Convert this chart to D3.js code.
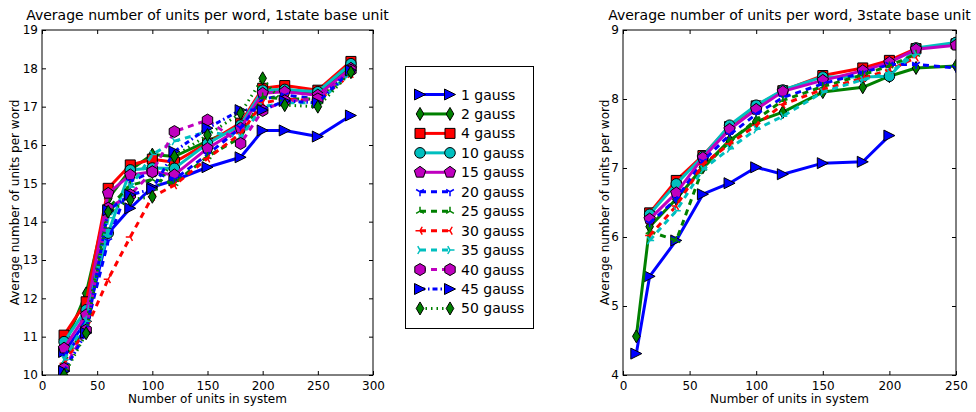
<!DOCTYPE html>
<html>
<head>
<meta charset="utf-8">
<script src="https://cdn.jsdelivr.net/npm/d3@7"></script>
<style>
    body { margin: 0; background: #fff; }
    text { font-family: "DejaVu Sans", sans-serif; fill: #000; }
</style>
</head>
<body>
<div id="chart-area"></div>
<script>
// Series names, one per gauss setting
var labels = ["1 gauss", "2 gauss", "4 gauss", "10 gauss", "15 gauss", "20 gauss",
              "25 gauss", "30 gauss", "35 gauss", "40 gauss", "45 gauss", "50 gauss"];

// Left panel (1state base unit)
var xLeft = [20, 40, 60, 80, 100, 120, 150, 180, 200, 220, 250, 280];
var left1  = [10.6, 11.4, 13.7, 14.35, 14.9, 15.08, 15.42, 15.68, 16.38, 16.38, 16.22, 16.77];
var left2  = [10.75, 12.13, 14.6, 15.35, 15.75, 15.7, 16.1, 16.5, 17.4, 17.45, 17.35, 18.05];
var left4  = [11.04, 11.91, 14.87, 15.48, 15.63, 15.55, 16.05, 16.57, 17.48, 17.55, 17.43, 18.18];
var left10 = [10.87, 11.7, 13.7, 15.35, 15.4, 15.39, 16.04, 16.52, 17.43, 17.45, 17.39, 18.12];
var left15 = [10.7, 11.57, 14.74, 15.22, 15.3, 15.22, 15.91, 16.44, 17.35, 17.39, 17.3, 18.0];
var left20 = [10.5, 11.2, 13.5, 15.05, 15.3, 15.1, 15.75, 16.45, 17.2, 17.3, 17.2, 17.95];
var left25 = [10.35, 11.3, 14.35, 14.95, 15.1, 15.0, 15.7, 16.2, 17.25, 17.2, 17.2, 17.9];
var left30 = [10.3, 11.2, 12.5, 13.6, 14.65, 14.95, 15.65, 16.3, 17.1, 17.2, 17.15, 17.85];
var left35 = [10.4, 11.4, 14.1, 14.9, 15.75, 16.1, 16.35, 16.2, 17.0, 17.1, 17.1, 17.9];
var left40 = [10.17, 11.17, 14.35, 14.7, 15.3, 16.35, 16.65, 16.04, 16.9, 17.15, 17.2, 17.95];
var left45 = [10.1, 11.1, 14.3, 14.7, 14.85, 15.83, 16.44, 16.91, 16.91, 17.15, 17.1, 17.95];
var left50 = [10.0, 11.09, 14.26, 14.57, 14.65, 15.7, 16.26, 16.83, 17.74, 17.04, 17.0, 17.9];

// Right panel (3state base unit)
var xRight1 = [10, 20, 40, 60, 80, 100, 120, 150, 180, 200];
var xRight2 = [10, 20, 40, 60, 80, 100, 120, 150, 180, 200, 220, 250];
var xRight  = [20, 40, 60, 80, 100, 120, 150, 180, 200, 220, 250];
var xRightShort = [20, 40, 60, 80, 100, 120, 150, 180, 200, 220];
var right1  = [4.31, 5.43, 5.95, 6.62, 6.78, 7.01, 6.91, 7.07, 7.09, 7.47];
var right2  = [4.56, 6.15, 6.55, 7.01, 7.4, 7.67, 7.81, 8.1, 8.17, 8.33, 8.45, 8.48];
var right4  = [6.35, 6.82, 7.18, 7.6, 7.9, 8.12, 8.34, 8.45, 8.56, 8.73, 8.8];
var right10 = [6.33, 6.77, 7.17, 7.62, 7.91, 8.13, 8.32, 8.32, 8.33, 8.74, 8.82];
var right15 = [6.26, 6.64, 7.15, 7.56, 7.85, 8.11, 8.27, 8.41, 8.53, 8.72, 8.78];
var right20 = [6.2, 6.55, 7.1, 7.48, 7.78, 8.02, 8.22, 8.38, 8.5, 8.5, 8.45];
var right25 = [6.08, 5.95, 7.0, 7.38, 7.7, 7.98, 8.18, 8.35, 8.48, 8.65];
var right30 = [6.02, 6.45, 7.05, 7.35, 7.62, 7.92, 8.14, 8.3, 8.42, 8.6];
var right35 = [5.95, 6.38, 6.98, 7.28, 7.56, 7.75, 8.1, 8.28, 8.38, 8.65];

// Tick values
var leftXTicks = [0, 50, 100, 150, 200, 250, 300];
var leftYTicks = [10, 11, 12, 13, 14, 15, 16, 17, 18, 19];
var rightXTicks = [0, 50, 100, 150, 200, 250];
var rightYTicks = [4, 5, 6, 7, 8, 9];

// Styles per series (matplotlib classic colours)
var colors = ["#0000ff", "#008000", "#ff0000", "#00bfbf", "#bf00bf", "#0000ff",
              "#008000", "#ff0000", "#00bfbf", "#bf00bf", "#0000ff", "#008000"];
var dashes = [null, null, null, null, null, "6,5", "6,5", "6,5", "6,5", "6,5", "5,3,1.5,3", "1.5,4"];
var markers = ["tri>", "thin_d", "square", "circle", "pentagon", "tri_down",
               "tri_up", "tri_left", "tri_right", "hexagon", "tri>", "thin_d"];

var leftSeries = [
    [xLeft, left1], [xLeft, left2], [xLeft, left4], [xLeft, left10], [xLeft, left15], [xLeft, left20],
    [xLeft, left25], [xLeft, left30], [xLeft, left35], [xLeft, left40], [xLeft, left45], [xLeft, left50]
];
var rightSeries = [
    [xRight1, right1], [xRight2, right2], [xRight, right4], [xRight, right10], [xRight, right15],
    [xRight, right20], [xRightShort, right25], [xRightShort, right30], [xRightShort, right35]
];

var svg = d3.select("#chart-area")
    .append("svg")
        .attr("width", 976)
        .attr("height", 412);

// Marker shapes, centred at 0,0
function polygon(n, r, rot) {
    var pts = [];
    for (var i = 0; i < n; i++) {
        var a = rot + i * 2 * Math.PI / n;
        pts.push([r * Math.cos(a), r * Math.sin(a)]);
    }
    return "M" + pts.map(function(p){ return p[0].toFixed(2) + "," + p[1].toFixed(2); }).join("L") + "Z";
}
function triArms(angles, r) {
    return angles.map(function(a) {
        var t = a * Math.PI / 180;
        return "M0,0L" + (r * Math.cos(t)).toFixed(2) + "," + (r * Math.sin(t)).toFixed(2);
    }).join("");
}
function markerPath(type) {
    if (type == "tri>") return "M5.5,0L-5.5,5.5L-5.5,-5.5Z";
    if (type == "thin_d") return "M0,-6.5L3.8,0L0,6.5L-3.8,0Z";
    if (type == "square") return "M-5,-5L5,-5L5,5L-5,5Z";
    if (type == "circle") return "M5.3,0A5.3,5.3 0 1,1 -5.3,0A5.3,5.3 0 1,1 5.3,0Z";
    if (type == "pentagon") return polygon(5, 6, -Math.PI / 2);
    if (type == "hexagon") return polygon(6, 6, -Math.PI / 2);
    if (type == "tri_down") return triArms([90, 210, 330], 4.5);
    if (type == "tri_up") return triArms([270, 30, 150], 4.5);
    if (type == "tri_left") return triArms([180, 300, 60], 4.5);
    if (type == "tri_right") return triArms([0, 120, 240], 4.5);
}
function isOpen(type) { return type.indexOf("tri_") == 0; }

function drawMarker(g, type, color, x, y) {
    var p = g.append("path")
        .attr("d", markerPath(type))
        .attr("transform", "translate(" + x + "," + y + ")");
    if (isOpen(type)) {
        p.attr("fill", "none").attr("stroke", color).attr("stroke-width", 1.5);
    } else {
        p.attr("fill", color).attr("stroke", "#000").attr("stroke-width", 1);
    }
}

function drawPanel(opt) {
    var width = opt.x1 - opt.x0, height = opt.y1 - opt.y0;
    var g = svg.append("g")
        .attr("transform", "translate(" + opt.x0 + "," + opt.y0 + ")");

    var x = d3.scaleLinear().domain(opt.xDomain).range([0, width]);
    var y = d3.scaleLinear().domain(opt.yDomain).range([height, 0]);

    // Clip to the axes box
    g.append("clipPath")
        .attr("id", opt.id + "-clip")
        .append("rect")
            .attr("width", width)
            .attr("height", height);

    var plot = g.append("g").attr("clip-path", "url(#" + opt.id + "-clip)");

    var line = d3.line()
        .x(function(d){ return x(d[0]); })
        .y(function(d){ return y(d[1]); });

    opt.series.forEach(function(s, i) {
        var pts = s[0].map(function(v, j){ return [v, s[1][j]]; });
        var sg = plot.append("g");
        sg.append("path")
            .datum(pts)
            .attr("d", line)
            .attr("fill", "none")
            .attr("stroke", colors[i])
            .attr("stroke-width", 3)
            .attr("stroke-dasharray", dashes[i])
            .attr("stroke-linejoin", "round");
        pts.forEach(function(p) {
            drawMarker(sg, markers[i], colors[i], x(p[0]), y(p[1]));
        });
    });

    // Axes: inward ticks on all four sides
    var fmt = d3.format("d");
    var xAxisCall = d3.axisBottom(x).tickValues(opt.xTicks).tickSize(-4).tickPadding(6).tickFormat(fmt);
    var xTop = d3.axisTop(x).tickValues(opt.xTicks).tickSize(-4).tickFormat("");
    var yAxisCall = d3.axisLeft(y).tickValues(opt.yTicks).tickSize(-4).tickPadding(4).tickFormat(fmt);
    var yRight = d3.axisRight(y).tickValues(opt.yTicks).tickSize(-4).tickFormat("");

    g.append("g").attr("class", "axis")
        .attr("transform", "translate(0," + height + ")")
        .call(xAxisCall);
    g.append("g").attr("class", "axis").call(xTop);
    g.append("g").attr("class", "axis").call(yAxisCall);
    g.append("g").attr("class", "axis")
        .attr("transform", "translate(" + width + ",0)")
        .call(yRight);

    g.selectAll(".axis .domain").remove();
    g.selectAll(".axis line").attr("stroke", "#000");
    g.selectAll(".axis text")
        .attr("font-size", "12px")
        .attr("font-family", "DejaVu Sans")
        .attr("fill", "#000");

    // Frame
    g.append("rect")
        .attr("width", width)
        .attr("height", height)
        .attr("fill", "none")
        .attr("stroke", "#000")
        .attr("stroke-width", 1);

    // Title
    g.append("text")
        .attr("x", width / 2)
        .attr("y", -10)
        .attr("font-size", "14px")
        .attr("text-anchor", "middle")
        .text(opt.title);

    // X Label
    g.append("text")
        .attr("x", width / 2)
        .attr("y", height + 28)
        .attr("font-size", "12px")
        .attr("text-anchor", "middle")
        .text("Number of units in system");

    // Y Label
    g.append("text")
        .attr("transform", "rotate(-90)")
        .attr("x", -height / 2)
        .attr("y", opt.yLabelX - opt.x0)
        .attr("font-size", "12px")
        .attr("text-anchor", "middle")
        .text("Average number of units per word");
}

drawPanel({
    id: "left", x0: 42, x1: 373, y0: 30, y1: 375,
    xDomain: [0, 300], yDomain: [10, 19],
    xTicks: leftXTicks, yTicks: leftYTicks,
    series: leftSeries, yLabelX: 19,
    title: "Average number of units per word, 1state base unit"
});

drawPanel({
    id: "right", x0: 623, x1: 956, y0: 30, y1: 375,
    xDomain: [0, 250], yDomain: [4, 9],
    xTicks: rightXTicks, yTicks: rightYTicks,
    series: rightSeries, yLabelX: 609,
    title: "Average number of units per word, 3state base unit"
});

// Legend
var legend = svg.append("g");
legend.append("rect")
    .attr("x", 405.5)
    .attr("y", 66.5)
    .attr("width", 128)
    .attr("height", 262)
    .attr("fill", "#fff")
    .attr("stroke", "#000");

labels.forEach(function(name, i) {
    var ly = 94.5 + i * 19.45;
    legend.append("line")
        .attr("x1", 420).attr("x2", 450)
        .attr("y1", ly).attr("y2", ly)
        .attr("stroke", colors[i])
        .attr("stroke-width", 3)
        .attr("stroke-dasharray", dashes[i]);
    drawMarker(legend, markers[i], colors[i], 420, ly);
    drawMarker(legend, markers[i], colors[i], 450, ly);
    legend.append("text")
        .attr("x", 461)
        .attr("y", ly + 5)
        .attr("font-size", "14px")
        .text(name);
});
</script>
</body>
</html>
